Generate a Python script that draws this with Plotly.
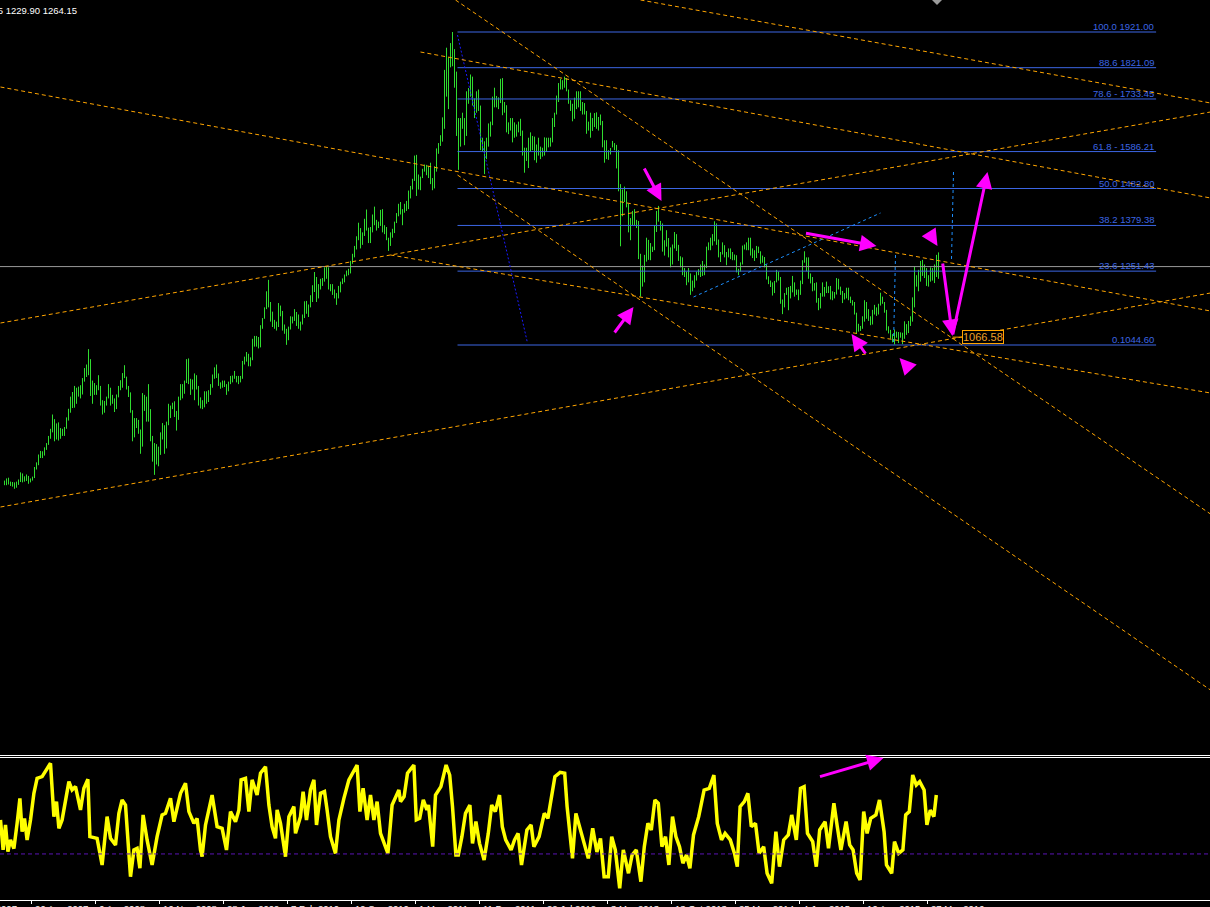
import plotly.graph_objects as go

# ---------------- weekly bars (first bar = week of 20 May 2007) ----------------
lows = [
    # 2007
    652,652,654,650,648,642,645,653,661,660,662,664,656,660,665,672,696,708,728,728,735,751,765,782,800,775,780,777,782,790,790,810,
    # 2008
    833,855,868,869,880,900,895,906,942,955,960,902,880,905,905,918,875,850,855,875,895,875,880,857,865,898,918,925,952,920,899,855,775,786,812,796,740,760,860,830,830,775,718,681,710,705,737,780,740,755,820,840,
    # 2009
    865,843,805,835,890,895,908,938,935,905,920,890,920,875,867,865,870,880,885,905,925,950,952,930,922,925,927,905,915,935,940,950,940,935,940,950,990,998,985,985,1002,1040,1040,1035,1038,1090,1118,1145,1150,1110,1095,1090,
    # 2010
    1085,1095,1125,1085,1076,1045,1058,1088,1105,1112,1098,1090,1085,1102,1120,1132,1123,1150,1165,1193,1165,1175,1200,1210,1222,1230,1200,1195,1185,1175,1157,1175,1192,1215,1220,1237,1240,1245,1272,1290,1312,1338,1315,1325,1350,1365,1330,1330,1360,1380,1365,1372,1378,
    # 2011
    1360,1355,1338,1308,1322,1345,1358,1386,1405,1410,1380,1415,1420,1425,1455,1480,1504,1462,1480,1478,1512,1530,1520,1512,1495,1478,1483,1530,1580,1602,1614,1650,1740,1705,1822,1825,1765,1630,1535,1600,1650,1604,1630,1720,1740,1715,1680,1695,1700,1590,1587,1523,
    # 2012
    1565,1600,1628,1660,1710,1710,1705,1722,1688,1695,1640,1635,1645,1612,1625,1628,1640,1630,1575,1527,1560,1540,1585,1590,1562,1555,1575,1565,1572,1575,1585,1598,1600,1612,1655,1690,1725,1760,1760,1765,1755,1720,1700,1671,1678,1705,1710,1700,1690,1690,1636,1645,
    # 2013
    1625,1644,1655,1650,1645,1660,1598,1555,1565,1563,1578,1598,1590,1539,1475,1321,1405,1445,1430,1360,1338,1380,1380,1372,1285,1180,1208,1220,1278,1283,1282,1305,1310,1361,1390,1365,1306,1295,1320,1290,1262,1270,1315,1308,1280,1262,1240,1235,1212,1220,1185,1195,
    # 2014
    1205,1225,1240,1235,1238,1240,1260,1310,1310,1323,1335,1325,1290,1277,1298,1290,1268,1290,1285,1282,1282,1248,1240,1250,1270,1312,1310,1310,1295,1288,1280,1288,1302,1272,1275,1262,1228,1215,1207,1183,1190,1220,1225,1160,1131,1150,1185,1142,1175,1192,1180,1185,
    # 2015
    1170,1185,1215,1275,1251,1230,1217,1195,1197,1163,1142,1147,1180,1180,1190,1190,1172,1170,1175,1186,1200,1185,1162,1172,1175,1170,1162,1155,1130,1077,1082,1084,1090,1110,1118,1112,1100,1102,1130,1126,1130,1155,1160,1135,1085,1077,1062,1052,1046,1065,1050,1065,
    # 2016
    1047,1062,1073,1078,1098,1110,1150,1208,1195,1222,1238,1232,1210,1208,1222,1225,1218,1235,1230,
]
highs = [
    # 2007
    665,671,673,662,661,660,662,668,688,685,677,682,678,671,676,703,716,738,748,747,758,770,790,810,850,837,825,828,812,810,815,842,
    # 2008
    866,900,913,930,925,928,932,952,980,990,1033,1005,945,938,932,960,930,890,888,900,935,925,905,895,906,930,946,966,988,956,930,912,862,840,840,835,808,910,905,900,935,865,790,770,767,760,800,826,820,830,880,875,
    # 2009
    883,887,860,900,935,935,945,1005,1007,950,948,965,960,930,898,890,915,915,918,935,962,982,990,965,940,945,945,935,942,958,959,972,958,958,958,1000,1012,1025,1020,1010,1062,1070,1070,1067,1100,1120,1150,1195,1227,1165,1138,1115,
    # 2010
    1110,1162,1155,1140,1102,1090,1096,1125,1124,1145,1137,1130,1110,1130,1167,1168,1158,1184,1212,1249,1235,1215,1230,1232,1262,1266,1262,1215,1215,1200,1190,1210,1222,1231,1242,1253,1258,1280,1300,1322,1349,1387,1372,1360,1398,1424,1373,1375,1410,1432,1395,1390,1423,
    # 2011
    1425,1380,1375,1345,1360,1370,1390,1414,1440,1445,1425,1440,1448,1477,1490,1510,1575,1577,1522,1516,1538,1550,1549,1545,1555,1512,1545,1595,1610,1632,1682,1815,1877,1850,1890,1921,1873,1810,1680,1680,1695,1680,1755,1764,1802,1796,1735,1755,1760,1715,1625,1615,
    # 2012
    1625,1665,1670,1740,1765,1742,1738,1790,1792,1725,1716,1668,1680,1680,1668,1662,1670,1678,1645,1597,1597,1625,1640,1630,1628,1606,1625,1600,1597,1626,1625,1625,1625,1680,1695,1743,1778,1790,1786,1796,1792,1760,1730,1720,1737,1755,1755,1755,1725,1722,1700,1670,
    # 2013
    1695,1680,1694,1696,1683,1690,1672,1618,1618,1590,1596,1616,1610,1605,1590,1495,1480,1488,1475,1440,1400,1420,1425,1395,1392,1300,1267,1297,1345,1339,1330,1320,1380,1420,1434,1392,1385,1338,1366,1344,1318,1326,1361,1355,1325,1293,1290,1260,1250,1260,1245,1225,
    # 2014
    1240,1250,1257,1270,1280,1270,1320,1332,1345,1355,1391,1385,1340,1305,1332,1324,1305,1315,1315,1305,1298,1296,1258,1276,1323,1326,1332,1345,1345,1315,1310,1322,1320,1307,1295,1291,1270,1237,1225,1220,1224,1255,1250,1235,1172,1190,1205,1207,1210,1238,1220,1200,
    # 2015
    1200,1225,1282,1307,1290,1290,1245,1235,1218,1220,1176,1190,1220,1207,1222,1209,1210,1195,1193,1232,1230,1208,1196,1190,1205,1205,1180,1170,1165,1135,1104,1098,1125,1170,1165,1145,1125,1143,1157,1150,1160,1191,1180,1165,1143,1097,1087,1075,1088,1082,1081,1080,
    # 2016
    1079,1111,1103,1112,1125,1178,1263,1240,1255,1280,1283,1270,1260,1240,1262,1260,1270,1297,1304,
]

# ---------------- oscillator (traced vertices: bar position, value) ----------------
osc_bar = [-2,-0.7,0.5,1.7,3,4.7,6.3,7.7,8.8,10,11.3,13,14.7,16.3,18.8,23,24.7,26,27.2,28.8,32.2,33.8,35.5,38,39.7,41.7,42.7,46.3,48.8,51.3,53,55.5,57.2,58.8,60.5,63,64.7,66.3,67.7,69.3,71.3,73.8,76.3,78.8,80.5,83,84.7,86.3,88,90.5,92.2,94.7,96.3,98,98.8,100.5,103.8,106.3,108.8,111,113,115.5,117.2,118.3,120.5,122.2,123.8,126.3,128,130.5,132.2,133.8,135.5,136.3,138,140.5,142.2,144.7,145.5,148,149.3,151,153,154.7,156,158,160,161.3,163,165.5,167.2,169.7,172.2,176.3,177.7,179.3,181.3,183,184.7,186.3,188,191.7,193.8,197.2,
           198,199.8,201.5,204.7,205.9,207.6,209.4,211.2,212,214.1,215.5,218.2,220.8,222.6,224,225.7,226.9,228.7,230.5,232.7,234,235.7,237.5,239.8,241.9,243.6,245.4,247.5,248.9,250.6,253.3,255,256.8,258.5,261.2,263.3,264.7,267.3,269.9,271.7,273.4,275.2,277.8,280.1,281.3,283.1,284,285.7,287.5,290.1,291.9,294.1,296.2,298,299.8,301.9,303.6,305.4,307.6,309.4,312,313.8,315.9,318.2,319.9,321.7,323.4,325.2,326.9,328.7,330.5,332.2,334,335.7,337.5,339.2,341,342.7,344.5,347.1,349.8,352.4,354.7,356.4,358.5,360.3,362.9,365,366.4,367.8,369.9,371.7,373.4,375.5,377.3,379.6,381.3,383.6,385.7,387.5,389.6,391.9,393.6,395.9,398,399.8,401.5,404.1,405.9,407.6,410.3,412,414.7,416.4,418.2,420.8,422.6,424.3,426.1,427.8,429.6,431.3,433.1,435.7,437.5,439.8,441,443.6,445,447.1,449.2,450.6,452.4,454.1,455.9,457.6,459.8,461.2,462.9,464.7,465.9]
osc_val = [56,35,52.5,33.8,42,36,53.6,71,47.8,57.1,42,56,74.6,85.1,86.3,95.6,58.3,68.8,50.1,56,82.8,77,79.3,63,78.1,84.4,44.3,43.1,24.5,58.3,43.1,38.5,60.6,70,66.4,16.3,35,36.1,22.2,59.5,42,24.5,44.3,59.5,60.6,71.1,54.8,65.3,74.6,81.6,61.8,53.6,57.1,35,30.3,52.5,73.4,51.3,50.1,35,61.8,54.8,63,84,85.1,61.8,84,73.4,88.6,93.2,66.4,51.3,43.1,63,53.6,30.3,58.3,65.3,46.6,58.3,75.8,56,77,84,52.5,74.6,75.8,63,44.3,32.6,56,71.1,84,94.4,61.8,78.1,56,73.4,56,68.8,46.6,32.6,66.4,77,
           68.8,72.3,88.6,94.4,56,57.1,70,63,66.4,37.3,73.4,79.3,94.4,87.4,65.3,31.5,31.5,44.3,60.6,66.4,39.6,54.8,39.6,28,46.6,66.4,61.8,73.4,51.3,42,35,42,46.6,24.5,49,52.5,37.3,44.3,60.6,57.1,71.1,86.3,89.3,88.6,65.3,44.3,29.1,60.6,51.3,39.6,29.1,50.1,33.6,43.1,16.3,16.3,44.3,35,8.2,35,18.7,31.5,35,12.8,37.3,53.6,49,70,67.6,37.3,44.3,24.5,58.3,44.3,37.3,25.7,31.5,22.2,45.5,58.3,76.9,78.1,87.4,53.6,42,46.6,42,32.6,23.3,65.3,68.8,74.6,51.3,53.6,32.6,37.3,18.7,11.7,47.8,23.3,42,45.5,59.5,42,78.1,79.3,46.6,40.8,23.3,49,54.8,36.1,67.6,51.3,35,54.8,38.5,35,18.7,14,61.8,46.6,57.1,59.5,70,47.8,24.5,18.7,40.8,32.6,35,59.5,61.8,87.4,80.4,82.8,77,52.5,62.9,58.3,73.4]
osc_level = 32.2

# ---------------- drawing objects (bar index, price) ----------------
fib_levels = [1921.00, 1821.09, 1733.45, 1586.21, 1482.80, 1379.38, 1251.43, 1044.60]
fib_labels = ["100.0 1921.00", "88.6 1821.09", "78.6 - 1733.45", "61.8 - 1586.21",
              "50.0 1482.80", "38.2 1379.38", "23.6 1251.43", "0.1044.60"]
fib_bar_start, fib_bar_end = 226.5, 575.8
current_price = 1264.15

trend_x0 = [-2, 318, 208, -2, -2, 225.5, 226.5, 193]
trend_y0 = [1767, 2010.6, 1865, 1106.2, 591, 2010.6, 1520.6, 1296.6]
trend_x1 = [603, 603, 603, 603, 603, 603, 603, 603]
trend_y1 = [1139.8, 1722.2, 1456.2, 1697, 1190.2, 571.4, 78.6, 910.2]

fib_trend_x = [226.5, 261.5]
fib_trend_y = [1912.6, 1050.2]

aux_x0 = [344.5, 445.5, 474.5]
aux_y0 = [1179, 1296.6, 1529]
aux_x1 = [438, 444.5, 473.5]
aux_y1 = [1414.2, 1044.2, 1282.6]

arrow_tail_x = [319.5, 304.5, 400, 462.0, 469, 474, 431, 453]
arrow_tail_y = [1543, 1075.4, 1358.2, 1362, 1277, 1069.8, 1016.6, 974.6]
arrow_head_x = [328.5, 314.5, 436, 466.5, 474, 491.5, 423.5, 447.5]
arrow_head_y = [1447.8, 1151, 1321.8, 1322, 1069.8, 1529, 1075.4, 1008.2]
osc_arrow = [407, 86, 439.5, 99.3]   # tail bar, tail value, head bar, head value

label_price = 1066.58
label_bar = 489.25
label_link_bar = [474, 479]

tick_bars = [13.5, 45.5, 77.5, 109.5, 141.5, 173.5, 205.5, 237.5, 269.5, 301.5, 333.5, 365.5, 397.5, 429.5, 461.5]
tick_labels = ["26 Aug 2007", "6 Apr 2008", "16 Nov 2008", "28 Jun 2009", "7 Feb 2010", "19 Sep 2010",
               "1 May 2011", "11 Dec 2011", "22 Jul 2012", "3 Mar 2013", "13 Oct 2013", "25 May 2014",
               "4 Jan 2015", "16 Aug 2015", "27 Mar 2016"]

header_text = "XAUUSD,W1  1269.30 1303.85 1229.90 1264.15"

# ---------------- figure ----------------
W, H = 1210, 907
XR = [-2.25, 602.75]
MAIN_BOTTOM, OSC_TOP, OSC_BOTTOM = 755, 757, 900

GREEN = "#2fdc2f"
ORANGE = "#ffa500"
FIBBLUE = "#3c66e4"
MAGENTA = "#ff00ff"

fig = go.Figure()

# price bars
bx, by = [], []
for i, (lo, hi) in enumerate(zip(lows, highs)):
    bx += [i, i, None]
    by += [lo, hi, None]
fig.add_trace(go.Scatter(x=bx, y=by, mode="lines", line=dict(color=GREEN, width=1),
                         hoverinfo="skip", xaxis="x", yaxis="y"))

# current price line
fig.add_trace(go.Scatter(x=[XR[0], XR[1]], y=[current_price, current_price], mode="lines",
                         line=dict(color="#9a9a9a", width=1), hoverinfo="skip"))

# fibonacci levels
fx, fy = [], []
for lv in fib_levels:
    fx += [fib_bar_start, fib_bar_end, None]
    fy += [lv, lv, None]
fig.add_trace(go.Scatter(x=fx, y=fy, mode="lines", line=dict(color=FIBBLUE, width=1), hoverinfo="skip"))

# fib trend line (dark blue dotted)
fig.add_trace(go.Scatter(x=fib_trend_x, y=fib_trend_y, mode="lines",
                         line=dict(color="#1a1aff", width=1, dash="2px,2px"), hoverinfo="skip"))

# orange dashed trend lines
tx, ty = [], []
for a, b, c, d in zip(trend_x0, trend_y0, trend_x1, trend_y1):
    tx += [a, c, None]
    ty += [b, d, None]
fig.add_trace(go.Scatter(x=tx, y=ty, mode="lines",
                         line=dict(color=ORANGE, width=1, dash="4px,3px"), hoverinfo="skip"))

# light blue dotted lines
ax_, ay_ = [], []
for a, b, c, d in zip(aux_x0, aux_y0, aux_x1, aux_y1):
    ax_ += [a, c, None]
    ay_ += [b, d, None]
fig.add_trace(go.Scatter(x=ax_, y=ay_, mode="lines",
                         line=dict(color="#1e90ff", width=1, dash="3px,3px"), hoverinfo="skip"))

# price label link
fig.add_trace(go.Scatter(x=label_link_bar, y=[label_price, label_price], mode="lines",
                         line=dict(color=ORANGE, width=1), hoverinfo="skip"))

# oscillator
fig.add_trace(go.Scatter(x=osc_bar, y=osc_val, mode="lines", line=dict(color="#ffff00", width=3.5),
                         hoverinfo="skip", xaxis="x2", yaxis="y2"))
fig.add_trace(go.Scatter(x=[XR[0], XR[1]], y=[osc_level, osc_level], mode="lines",
                         line=dict(color="#5a14b4", width=1, dash="4px,3px"),
                         hoverinfo="skip", xaxis="x2", yaxis="y2"))

annotations = []
for lv, txt in zip(fib_levels, fib_labels):
    annotations.append(dict(x=fib_bar_end, y=lv, xref="x", yref="y", text=txt, showarrow=False,
                            xanchor="right", yanchor="bottom", yshift=-2,
                            font=dict(family="Liberation Sans", size=9.5, color=FIBBLUE)))

for tx0, ty0, hx, hy in zip(arrow_tail_x, arrow_tail_y, arrow_head_x, arrow_head_y):
    annotations.append(dict(x=hx, y=hy, ax=tx0, ay=ty0, xref="x", yref="y", axref="x", ayref="y",
                            text="", showarrow=True, arrowhead=2, arrowsize=1.1, arrowwidth=3,
                            arrowcolor=MAGENTA))
annotations.append(dict(x=osc_arrow[2], y=osc_arrow[3], ax=osc_arrow[0], ay=osc_arrow[1],
                        xref="x2", yref="y2", axref="x2", ayref="y2", text="", showarrow=True,
                        arrowhead=2, arrowsize=1.1, arrowwidth=3, arrowcolor=MAGENTA))

annotations.append(dict(x=label_bar, y=label_price, xref="x", yref="y", text="1066.58", showarrow=False,
                        font=dict(family="Liberation Sans", size=11, color="#f0a028"),
                        bordercolor=ORANGE, borderwidth=1, borderpad=0, bgcolor="black"))

for tb, tl in zip(tick_bars, tick_labels):
    annotations.append(dict(x=tb, y=1 - 901 / H, xref="x2", yref="paper", text=tl, showarrow=False,
                            xanchor="left", yanchor="top", xshift=1,
                            font=dict(family="Liberation Sans", size=9.5, color="white")))
annotations.append(dict(x=-2.25, y=1 - 901 / H, xref="x2", yref="paper", text="20 May 2007",
                        showarrow=False, xanchor="right", yanchor="top", xshift=19,
                        font=dict(family="Liberation Sans", size=9.5, color="white")))

annotations.append(dict(x=79 / W, y=1 - 3 / H, xref="paper", yref="paper", text=header_text,
                        showarrow=False, xanchor="right", yanchor="top",
                        font=dict(family="Liberation Sans", size=9.5, color="white")))

shapes = [
    dict(type="line", xref="paper", yref="paper", x0=0, x1=1, y0=1 - (MAIN_BOTTOM + 0.5) / H,
         y1=1 - (MAIN_BOTTOM + 0.5) / H, line=dict(color="white", width=1)),
    dict(type="line", xref="paper", yref="paper", x0=0, x1=1, y0=1 - (OSC_TOP + 0.5) / H,
         y1=1 - (OSC_TOP + 0.5) / H, line=dict(color="white", width=1)),
    dict(type="path", xref="paper", yref="paper",
         path=f"M {932 / W} 1 L {942 / W} 1 L {937 / W} {1 - 5 / H} Z",
         fillcolor="#9a9a9a", line=dict(width=0)),
]

fig.update_layout(
    width=W, height=H, margin=dict(l=0, r=0, t=0, b=0),
    paper_bgcolor="black", plot_bgcolor="black", showlegend=False, hovermode=False,
    xaxis=dict(range=XR, domain=[0, 1], anchor="y", visible=False),
    yaxis=dict(range=[-103.4, 2010.6], domain=[1 - MAIN_BOTTOM / H, 1], visible=False),
    xaxis2=dict(range=XR, domain=[0, 1], anchor="y2", showline=True, linecolor="white", linewidth=1,
                ticks="outside", ticklen=3, tickcolor="white", tickwidth=1, tickvals=tick_bars,
                showticklabels=False, showgrid=False, zeroline=False),
    yaxis2=dict(range=[0, 100], domain=[1 - OSC_BOTTOM / H, 1 - OSC_TOP / H], visible=False),
    annotations=annotations, shapes=shapes,
)

page_js = ("document.body.style.margin='0';document.body.style.padding='0';"
           "document.body.style.overflow='hidden';document.body.style.background='black';")
fig.write_html("out.html", post_script=page_js, config={"displayModeBar": False})
